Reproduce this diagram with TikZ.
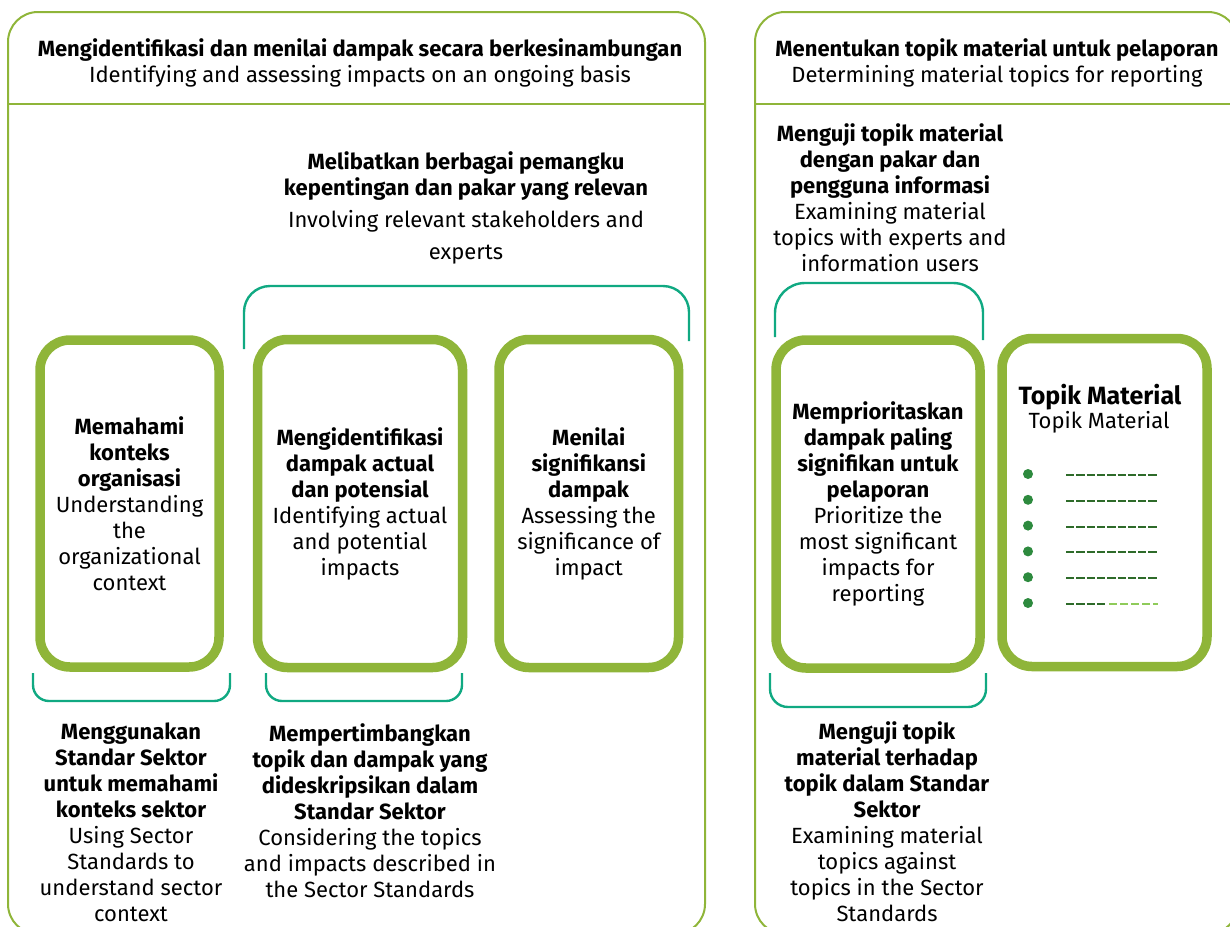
\documentclass[tikz,border=0pt]{standalone}
\usepackage{fontspec}
\setmainfont{Fira Sans}
\usetikzlibrary{positioning}

\definecolor{leaf}{HTML}{8FB539}
\definecolor{sea}{HTML}{10A982}
\definecolor{dotgreen}{HTML}{2D8A3E}
\definecolor{dashdark}{HTML}{2E6B2A}
\definecolor{palegreen}{HTML}{8FCB5A}
\newcommand{\txtsize}{\fontsize{22}{26}\selectfont}

\begin{document}
\begin{tikzpicture}[x=1pt,y=-1pt,
  panel/.style={draw=leaf, line width=2pt, rounded corners=30pt},
  stepbox/.style={draw=leaf, line width=9.5pt, rounded corners=30pt, align=center, inner sep=0pt, font=\txtsize},
  brace/.style={draw=sea, line width=2.4pt},
  txt/.style={align=center, inner sep=0pt, font=\txtsize},
]
\clip (0,0) rectangle (1230,926);

% two panels with their header lines
\draw[panel] (8,12) rectangle (705,934);
\draw[leaf, line width=2pt] (8,104) -- (705,104);
\draw[panel] (755,12) rectangle (1238,934);
\draw[leaf, line width=2pt] (755,104) -- (1238,104);

\node[txt, anchor=north] (hdl) at (360,38) {\textbf{Mengidentifikasi dan menilai dampak secara berkesinambungan}\\Identifying and assessing impacts on an ongoing basis};
\node[txt, anchor=north] (hdr) at (997,38) {\textbf{Menentukan topik material untuk pelaporan}\\Determining material topics for reporting};

% steps
\node[stepbox, minimum width=179, minimum height=327] (org) at (129.5,503.5) {\textbf{Memahami}\\\textbf{konteks}\\\textbf{organisasi}\\Understanding\\the\\organizational\\context};
\node[stepbox, minimum width=205, minimum height=328] (idf) at (360,503.5) {\textbf{Mengidentifikasi}\\\textbf{dampak actual}\\\textbf{dan potensial}\\Identifying actual\\and potential\\impacts};
\node[stepbox, minimum width=179.5, minimum height=328] (sig) at (588.75,503.5) {\textbf{Menilai}\\\textbf{signifikansi}\\\textbf{dampak}\\Assessing the\\significance of\\impact};
\node[stepbox, minimum width=204, minimum height=328] (prio) at (878,504) {\textbf{Memprioritaskan}\\\textbf{dampak paling}\\\textbf{signifikan untuk}\\\textbf{pelaporan}\\Prioritize the\\most significant\\impacts for\\reporting};
\node[stepbox, minimum width=205, minimum height=328] (topik) at (1104.5,502.5) {};

% brackets
\draw[brace, rounded corners=26pt] (244,349) -- (244,286) -- (689,286) -- (689,341);
\draw[brace, rounded corners=16pt] (33,673) -- (33,701) -- (230,701) -- (230,673);
\draw[brace, rounded corners=16pt] (266,673) -- (266,701) -- (462,701) -- (462,673);
\draw[brace, rounded corners=30pt] (775,337) -- (775,283) -- (983,283) -- (983,340);
\draw[brace, rounded corners=18pt] (770,673) -- (770,707) -- (986,707) -- (986,673);

% bracket texts
\node[txt, anchor=north] (stake) at (466,151) {\textbf{Melibatkan berbagai pemangku}\\\textbf{kepentingan dan pakar yang relevan}\\[6pt]Involving relevant stakeholders and\\[6pt]experts};
\node[txt, anchor=north] (users) at (890,123) {\textbf{Menguji topik material}\\\textbf{dengan pakar dan}\\\textbf{pengguna informasi}\\Examining material\\topics with experts and\\information users};
\node[txt, anchor=north] (sector) at (131,723) {\textbf{Menggunakan}\\\textbf{Standar Sektor}\\\textbf{untuk memahami}\\\textbf{konteks sektor}\\Using Sector\\Standards to\\understand sector\\context};
\node[txt, anchor=north] (consider) at (370,723) {\textbf{Mempertimbangkan}\\\textbf{topik dan dampak yang}\\\textbf{dideskripsikan dalam}\\\textbf{Standar Sektor}\\Considering the topics\\and impacts described in\\the Sector Standards};
\node[txt, anchor=north] (against) at (887,721) {\textbf{Menguji topik}\\\textbf{material terhadap}\\\textbf{topik dalam Standar}\\\textbf{Sektor}\\Examining material\\topics against\\topics in the Sector\\Standards};

% material topics list
\node[inner sep=0pt, font=\bfseries\fontsize{25}{26}\selectfont, anchor=north] (tm) at (1100,384) {Topik Material};
\node[txt, anchor=north] (tmsub) at (1099,411) {Topik Material};
\foreach \i in {0,...,5}
  \fill[dotgreen] (1028,474+25.8*\i) circle (5pt);
\foreach \i in {0,...,4}
  \draw[dashdark, line width=2pt, dash pattern=on 8.3pt off 2pt] (1066,475+25.8*\i) -- (1158,475+25.8*\i);
\draw[dashdark, line width=2pt, dash pattern=on 8.3pt off 2pt] (1066,604) -- (1107,604);
\draw[palegreen, line width=1.3pt, dash pattern=on 8pt off 3pt] (1109,604) -- (1158,604);
\end{tikzpicture}
\end{document}
